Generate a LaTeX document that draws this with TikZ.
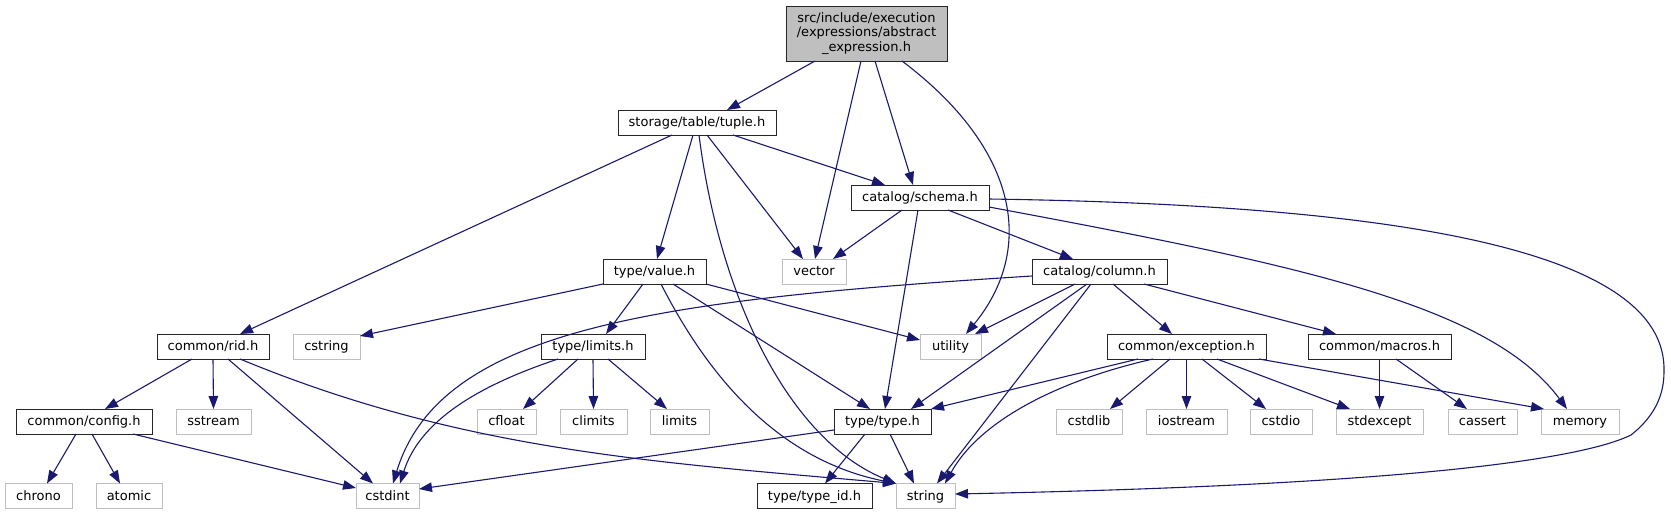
\documentclass[tikz,border=0pt]{standalone}
\usepackage{fontspec}
\setmainfont{DejaVu Sans}
\usetikzlibrary{arrows.meta}
\definecolor{edgeblue}{HTML}{191970}
\definecolor{grey75}{HTML}{BFBFBF}

\begin{document}
\begin{tikzpicture}[x=1pt, y=-1pt, line width=1pt,
  font=\fontsize{13}{14.4}\selectfont,
  incbox/.style={minimum height=25pt, inner sep=0pt, outer sep=0pt,
                 text height=10.5pt, text depth=2.1pt, fill=white},
  hdr/.style={incbox, draw=black!85},
  sys/.style={incbox, draw=grey75},
  topfile/.style={draw=black!85, fill=grey75, inner sep=0pt, outer sep=0pt,
                  minimum height=55pt, align=center},
  dep/.style={draw=edgeblue, line width=1.1pt, -{Triangle[length=13pt,width=9.5pt]}}]

  \useasboundingbox (0,0) rectangle (1671,515);

  % ---------- top file ----------
  \node[topfile, minimum width=161pt] (root) at (866.5,33.5)
    {src/include/execution\\/expressions/abstract\\\_expression.h};

  % ---------- project headers ----------
  \node[hdr, minimum width=158pt] (tuple)     at (697,122.5)   {storage/table/tuple.h};
  \node[hdr, minimum width=138pt] (schema)    at (920,197.5)   {catalog/schema.h};
  \node[hdr, minimum width=103pt] (value)     at (654.5,271.5) {type/value.h};
  \node[hdr, minimum width=135pt] (column)    at (1099.5,271.5){catalog/column.h};
  \node[hdr, minimum width=104pt] (limitsh)   at (593,346.5)   {type/limits.h};
  \node[hdr, minimum width=112pt] (rid)       at (213,346.5)   {common/rid.h};
  \node[hdr, minimum width=159pt] (exception) at (1186.5,346.5){common/exception.h};
  \node[hdr, minimum width=143pt] (macros)    at (1379.5,346.5){common/macros.h};
  \node[hdr, minimum width=136pt] (config)    at (84,421.5)    {common/config.h};
  \node[hdr, minimum width=97pt]  (type)      at (882.5,421.5) {type/type.h};
  \node[hdr, minimum width=115pt] (typeid)    at (814.5,496)   {type/type\_id.h};

  % ---------- system headers ----------
  \node[sys, minimum width=64pt] (vector)    at (814,271.5)   {vector};
  \node[sys, minimum width=61pt] (utility)   at (950.5,346.5) {utility};
  \node[sys, minimum width=67pt] (cstring)   at (326.5,346.5) {cstring};
  \node[sys, minimum width=75pt] (sstream)   at (213.5,421.5) {sstream};
  \node[sys, minimum width=59pt] (cfloat)    at (506.5,421.5) {cfloat};
  \node[sys, minimum width=67pt] (climits)   at (593.5,421.5) {climits};
  \node[sys, minimum width=59pt] (limits)    at (679.5,421.5) {limits};
  \node[sys, minimum width=66pt] (cstdlib)   at (1089,421.5)  {cstdlib};
  \node[sys, minimum width=81pt] (iostream)  at (1186.5,421.5){iostream};
  \node[sys, minimum width=62pt] (cstdio)    at (1281,421.5)  {cstdio};
  \node[sys, minimum width=87pt] (stdexcept) at (1379.5,421.5){stdexcept};
  \node[sys, minimum width=69pt] (cassert)   at (1482.5,421.5){cassert};
  \node[sys, minimum width=78pt] (memory)    at (1580,421.5)  {memory};
  \node[sys, minimum width=67pt] (chrono)    at (38.5,496)    {chrono};
  \node[sys, minimum width=66pt] (atomic)    at (129,496)     {atomic};
  \node[sys, minimum width=63pt] (cstdint)   at (387.5,496)   {cstdint};
  \node[sys, minimum width=59pt] (string)    at (925.5,496)   {string};

  % ---------- abstract_expression.h ----------
  \draw[dep] ([xshift=-51.5pt]root.south) -- ([xshift=30pt]tuple.north);
  \draw[dep] ([xshift=-5.5pt]root.south) -- ([xshift=1pt]vector.north);
  \draw[dep] ([xshift=8.5pt]root.south) -- ([xshift=-7pt]schema.north);
  \draw[dep] ([xshift=35.5pt]root.south) .. controls (1020,150) and (1035,250) .. ([xshift=15.5pt]utility.north);

  % ---------- tuple.h ----------
  \draw[dep] ([xshift=-25pt]tuple.south) -- ([xshift=27pt]rid.north);
  \draw[dep] ([xshift=-4pt]tuple.south) -- ([xshift=2.5pt]value.north);
  \draw[dep] ([xshift=2pt]tuple.south) .. controls (720,300) and (790,440) .. (string.north west);
  \draw[dep] ([xshift=10pt]tuple.south) -- ([xshift=-11pt]vector.north);
  \draw[dep] ([xshift=36pt]tuple.south) -- ([xshift=-35pt]schema.north);

  % ---------- schema.h ----------
  \draw[dep] ([xshift=-18pt]schema.south) -- ([xshift=19pt]vector.north);
  \draw[dep] ([xshift=-2pt]schema.south) -- ([xshift=2.5pt]type.north);
  \draw[dep] ([xshift=28pt]schema.south) -- ([xshift=-26.5pt]column.north);
  \draw[dep] ([yshift=-9.5pt]schema.east) .. controls (1300,265) and (1490,305) .. ([xshift=-13pt]memory.north);
  \draw[dep] ([yshift=-1.5pt]schema.east) .. controls (1400,205) and (1668,250) .. (1664,372)
             .. controls (1664,400) and (1650,420) .. (1631,435)
             .. controls (1580,460) and (1400,485) .. ([yshift=2pt]string.east);

  % ---------- column.h ----------
  \draw[dep] ([yshift=-4.5pt]column.west) .. controls (650,300) and (440,330) .. ([xshift=5.5pt]cstdint.north);
  \draw[dep] ([xshift=-24.5pt]column.south) -- ([xshift=24.5pt]utility.north);
  \draw[dep] ([xshift=-12.5pt]column.south) -- ([xshift=28.5pt]type.north);
  \draw[dep] ([xshift=-8.5pt]column.south) -- ([xshift=11.5pt]string.north);
  \draw[dep] ([xshift=13.5pt]column.south) -- ([xshift=-14.5pt]exception.north);
  \draw[dep] ([xshift=44.5pt]column.south) -- ([xshift=-43.5pt]macros.north);

  % ---------- value.h ----------
  \draw[dep] (value.south west) -- ([yshift=-2pt]cstring.north east);
  \draw[dep] ([xshift=-11.5pt]value.south) -- ([xshift=13pt]limitsh.north);
  \draw[dep] ([xshift=6.5pt]value.south) .. controls (710,380) and (780,460) .. (string.north west);
  \draw[dep] ([xshift=18.5pt]value.south) -- ([xshift=-12.5pt]type.north);
  \draw[dep] (value.south east) -- ([yshift=6.5pt]utility.west);

  % ---------- limits.h ----------
  \draw[dep] ([xshift=-35pt]limitsh.south) .. controls (480,385) and (420,420) .. ([xshift=12.5pt]cstdint.north);
  \draw[dep] ([xshift=-15pt]limitsh.south) -- ([xshift=16.5pt]cfloat.north);
  \draw[dep] (limitsh.south) -- (climits.north);
  \draw[dep] ([xshift=15pt]limitsh.south) -- ([xshift=-12.5pt]limits.north);

  % ---------- rid.h / config.h ----------
  \draw[dep] ([xshift=-21pt]rid.south) -- ([xshift=21pt]config.north);
  \draw[dep] (rid.south) -- (sstream.north);
  \draw[dep] ([xshift=15pt]rid.south) -- ([xshift=-14.5pt]cstdint.north);
  \draw[dep] ([xshift=27pt]rid.south) .. controls (460,450) and (650,462) .. (string.north west);
  \draw[dep] ([xshift=-8pt]config.south) -- ([xshift=8.5pt]chrono.north);
  \draw[dep] ([xshift=8pt]config.south) -- ([xshift=-9pt]atomic.north);
  \draw[dep] ([xshift=49pt]config.south) -- ([yshift=8pt]cstdint.west);

  % ---------- exception.h / macros.h ----------
  \draw[dep] ([xshift=-48.5pt]exception.south) -- (type.north east);
  \draw[dep] ([xshift=-33.5pt]exception.south) .. controls (1060,380) and (980,420) .. ([xshift=19.5pt]string.north);
  \draw[dep] ([xshift=-16.5pt]exception.south) -- ([xshift=21pt]cstdlib.north);
  \draw[dep] (exception.south) -- (iostream.north);
  \draw[dep] ([xshift=15.5pt]exception.south) -- ([xshift=-15pt]cstdio.north);
  \draw[dep] ([xshift=30.5pt]exception.south) -- ([xshift=-29.5pt]stdexcept.north);
  \draw[dep] ([xshift=72.5pt]exception.south) -- ([xshift=3pt]memory.north west);
  \draw[dep] (macros.south) -- (stdexcept.north);
  \draw[dep] ([xshift=16.5pt]macros.south) -- ([xshift=-15.5pt]cassert.north);

  % ---------- type.h ----------
  \draw[dep] ([yshift=-8.5pt]type.west) -- ([yshift=7pt]cstdint.east);
  \draw[dep] ([xshift=-17.5pt]type.south) -- ([xshift=10.5pt]typeid.north);
  \draw[dep] ([xshift=7.5pt]type.south) -- ([xshift=-11.5pt]string.north);

\end{tikzpicture}
\end{document}
